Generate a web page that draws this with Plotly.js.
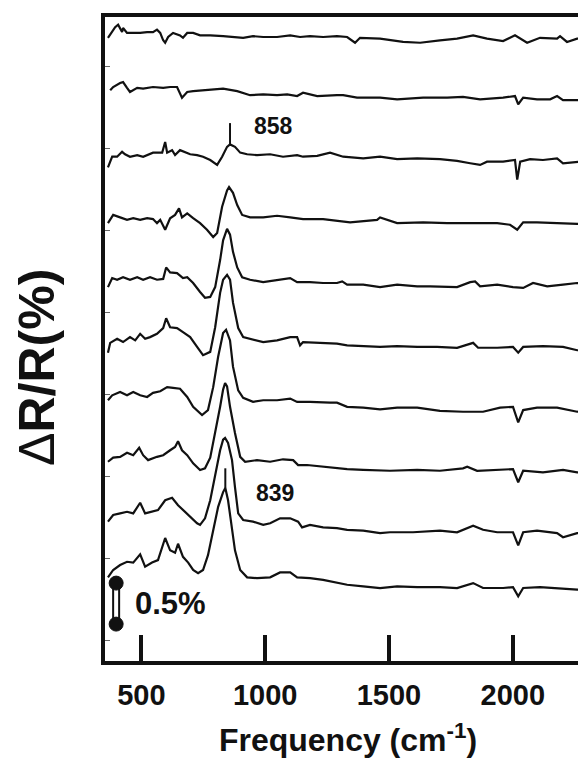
<!DOCTYPE html>
<html>
<head>
<meta charset="utf-8">
<script src="https://cdn.plot.ly/plotly-3.0.1.min.js"></script>
<style>
  html, body { margin: 0; padding: 0; overflow: hidden; background: #fff; width: 578px; height: 758px; }
  #chart { width: 591px; height: 758px; }
</style>
</head>
<body>
<div id="chart"></div>
<script>
// Difference reflectance spectra, stacked top to bottom (ΔR/R in %, frequency in cm-1)
const offsets = [7.6, 6.85, 6.1, 5.35, 4.6, 3.85, 3.1, 2.35, 1.6, 0.9];

const freq1 = [365,394,406,422,426,442,467,495,523,547,563,576,588,596,608,628,656,668,685,709,737,778,830,899,911,951,992,1048,1101,1141,1181,1234,1290,1331,1363,1383,1464,1557,1626,1706,1775,1840,1896,1961,2009,2058,2110,2179,2191,2219,2260,2312];
const dr1 = [0.00,0.13,0.16,0.07,0.12,0.06,0.06,0.06,0.07,0.07,0.10,0.06,-0.03,-0.06,0.01,0.06,0.03,0.00,0.06,0.06,0.03,0.03,0.02,0.01,0.00,0.02,0.01,0.01,0.03,0.01,0.02,0.01,0.02,0.01,-0.06,0.00,-0.01,-0.05,-0.06,-0.03,-0.01,0.03,-0.01,-0.04,0.03,-0.06,0.00,-0.01,0.02,-0.05,-0.01,0.00];

const freq2 = [374,386,414,426,442,454,483,507,547,588,616,644,664,685,709,765,830,887,939,992,1048,1089,1129,1153,1210,1290,1315,1371,1464,1533,1638,1735,1799,1868,1961,2009,2022,2042,2098,2151,2179,2203,2260,2312];
const dr2 = [0.11,0.15,0.20,0.21,0.14,0.09,0.14,0.13,0.15,0.14,0.15,0.15,0.02,0.09,0.10,0.11,0.13,0.10,0.05,0.06,0.05,0.06,0.04,0.08,0.04,0.05,0.05,0.02,0.02,0.00,0.02,0.02,0.03,0.00,0.02,0.04,-0.06,0.02,0.00,0.00,0.04,-0.01,-0.01,0.00];

const freq3 = [365,382,402,422,434,454,483,507,547,584,596,604,624,636,656,677,697,725,749,778,806,826,846,858,878,899,927,967,1020,1072,1129,1153,1210,1262,1315,1396,1464,1533,1614,1706,1775,1828,1868,1896,1961,2009,2018,2030,2070,2122,2179,2203,2260,2312];
const dr3 = [-0.08,0.05,0.05,0.11,0.08,0.05,0.07,0.05,0.10,0.10,0.23,0.10,0.13,0.07,0.13,0.10,0.08,0.07,0.05,0.01,-0.05,0.05,0.17,0.20,0.17,0.10,0.08,0.07,0.08,0.05,0.07,0.05,0.06,0.10,0.05,0.03,0.05,0.02,0.03,0.02,0.00,-0.03,-0.05,-0.01,-0.01,0.01,-0.23,-0.01,0.02,0.01,0.03,-0.03,-0.01,0.00];

const freq4 = [365,386,414,442,467,495,523,547,563,576,596,616,636,652,664,685,709,737,765,790,806,826,846,854,870,887,907,939,992,1048,1101,1153,1234,1290,1343,1452,1464,1533,1638,1735,1828,1937,1989,2018,2042,2098,2179,2260,2312];
const dr4 = [-0.01,0.09,0.06,0.03,0.05,0.03,0.05,0.04,-0.01,0.03,-0.09,0.05,0.09,0.17,0.06,0.11,0.05,-0.01,-0.09,-0.18,-0.13,0.19,0.39,0.43,0.36,0.21,0.09,0.06,0.06,0.08,0.06,0.04,0.04,0.02,0.00,0.03,0.06,-0.01,0.00,-0.01,-0.01,-0.01,-0.03,-0.09,0.00,0.00,-0.01,-0.02,-0.01];

const freq5 = [365,382,402,426,454,483,507,535,563,588,600,616,644,668,685,709,737,757,778,798,818,830,846,858,870,887,907,939,992,1048,1101,1129,1181,1234,1290,1311,1331,1396,1464,1533,1614,1666,1775,1828,1848,1868,1937,2001,2042,2082,2139,2203,2260,2312];
const dr5 = [-0.04,0.07,0.05,0.08,0.05,0.08,0.05,0.08,0.05,0.06,0.20,0.14,0.13,0.07,0.08,0.01,-0.10,-0.17,-0.16,-0.04,0.29,0.53,0.67,0.60,0.39,0.20,0.08,0.05,0.02,0.05,0.07,0.02,0.02,0.01,0.01,0.03,-0.01,-0.01,-0.04,-0.01,-0.03,-0.03,-0.04,0.02,0.03,-0.03,-0.01,-0.04,-0.05,0.01,-0.03,-0.01,0.01,0.00];

const freq6 = [365,374,402,426,454,475,495,515,535,563,588,600,616,644,668,697,725,749,778,798,818,830,846,858,870,891,911,939,992,1048,1101,1129,1141,1153,1210,1290,1331,1396,1464,1533,1614,1694,1775,1840,1860,1937,2001,2022,2042,2122,2203,2260,2312];
const dr6 = [-0.09,0.03,0.08,0.04,0.10,0.06,0.14,0.08,0.10,0.14,0.21,0.33,0.22,0.21,0.16,0.10,-0.02,-0.12,-0.08,0.22,0.64,0.80,0.86,0.80,0.52,0.21,0.10,0.08,0.04,0.06,0.10,0.10,0.00,0.04,0.03,0.02,0.00,-0.01,-0.02,-0.01,-0.02,-0.02,-0.03,0.03,-0.03,-0.03,-0.02,-0.09,-0.02,-0.01,-0.02,-0.06,-0.03];

const freq7 = [365,382,414,442,467,495,523,547,576,604,628,656,685,709,745,769,790,810,830,842,858,870,891,911,951,992,1048,1101,1129,1181,1262,1290,1331,1396,1464,1533,1614,1706,1799,1880,1949,2001,2022,2042,2098,2179,2260,2312];
const dr7 = [0.08,0.14,0.18,0.14,0.18,0.14,0.12,0.17,0.19,0.24,0.23,0.22,0.12,0.00,-0.10,-0.04,0.24,0.61,0.90,0.94,0.81,0.49,0.20,0.11,0.06,0.08,0.08,0.10,0.06,0.06,0.05,0.05,0.00,-0.01,-0.03,-0.01,-0.01,-0.05,-0.06,-0.06,-0.01,0.00,-0.19,-0.04,-0.01,-0.01,-0.06,-0.04];

const freq8 = [365,386,414,442,467,491,507,527,563,588,616,636,648,664,685,709,737,757,778,798,818,830,838,846,858,878,899,919,967,1020,1072,1113,1133,1169,1234,1290,1331,1396,1504,1614,1706,1799,1816,1856,1937,2001,2022,2042,2122,2203,2260,2312];
const dr8 = [0.08,0.13,0.14,0.19,0.16,0.25,0.16,0.10,0.14,0.16,0.22,0.26,0.33,0.22,0.16,0.06,-0.02,0.00,0.13,0.43,0.75,0.96,1.04,1.00,0.75,0.43,0.14,0.08,0.10,0.08,0.11,0.10,0.04,0.04,0.02,0.00,-0.01,-0.02,-0.03,-0.02,-0.03,0.00,0.02,-0.03,-0.02,-0.01,-0.17,-0.03,-0.05,-0.02,-0.05,-0.03];

const freq9 = [365,386,414,442,467,495,515,543,567,596,624,648,668,689,725,737,757,778,798,818,830,838,850,866,878,891,911,951,992,1020,1060,1101,1133,1149,1181,1234,1290,1331,1396,1464,1504,1597,1706,1775,1840,1880,1937,2001,2022,2042,2098,2179,2203,2260,2312];
const dr9 = [0.10,0.18,0.20,0.22,0.20,0.33,0.20,0.22,0.24,0.36,0.39,0.30,0.24,0.18,0.08,0.06,0.14,0.36,0.69,0.97,1.10,1.12,1.06,0.85,0.52,0.20,0.12,0.10,0.06,0.08,0.14,0.14,0.10,0.03,0.06,0.03,0.02,0.00,-0.01,-0.04,-0.03,-0.03,-0.01,-0.03,0.05,0.00,-0.03,-0.03,-0.19,-0.03,-0.01,-0.04,-0.09,-0.04,-0.03];

const freq10 = [365,386,414,442,467,495,515,543,567,596,616,636,648,668,689,709,729,749,769,790,810,830,839,850,866,878,899,927,967,1020,1060,1101,1129,1181,1234,1290,1331,1396,1464,1533,1614,1706,1775,1840,1880,1961,2001,2022,2042,2110,2179,2260,2312];
const dr10 = [0.12,0.21,0.27,0.31,0.30,0.40,0.25,0.30,0.33,0.60,0.45,0.42,0.53,0.37,0.30,0.21,0.17,0.21,0.39,0.70,0.98,1.16,1.21,1.06,0.73,0.45,0.21,0.12,0.11,0.12,0.18,0.18,0.12,0.11,0.09,0.06,0.03,0.01,-0.01,0.01,0.00,0.00,-0.01,0.05,-0.01,-0.01,0.00,-0.11,-0.01,0.00,-0.01,-0.03,-0.02];

// Labelled band positions (cm-1), the spectrum each belongs to, and the top of the marker stick
const bandFreqs = [858, 839];
const bandTrace = [2, 9];
const bandMarkTop = [6.56, 2.35];
const bandLabelX = [1032, 1040];
const bandLabelY = [6.52, 2.05];

// Scale bar
const scaleBarSize = 0.5;   // %
const scaleBarBottom = 0.45;
const scaleBarFreq = 398;

const tickFreqs = [500, 1000, 1500, 2000];
const tickLabels = ['500', '1000', '1500', '2000'];

const freqs = [freq1, freq2, freq3, freq4, freq5, freq6, freq7, freq8, freq9, freq10];
const drs = [dr1, dr2, dr3, dr4, dr5, dr6, dr7, dr8, dr9, dr10];

const FONT = '"Liberation Sans", Arial, Helvetica, sans-serif';

const traces = freqs.map((f, i) => ({
  type: 'scatter',
  mode: 'lines',
  x: f,
  y: drs[i].map(v => v + offsets[i]),
  line: { color: '#111', width: 2.2 },
  hoverinfo: 'skip',
  showlegend: false
}));

const shapes = [];
const annotations = [];

bandFreqs.forEach((bf, k) => {
  const t = bandTrace[k];
  const idx = freqs[t].indexOf(bf);
  const peakY = drs[t][idx] + offsets[t];
  shapes.push({
    type: 'line', xref: 'x', yref: 'y',
    x0: bf, x1: bf, y0: peakY, y1: bandMarkTop[k],
    line: { color: '#111', width: 2 }
  });
  annotations.push({
    xref: 'x', yref: 'y', x: bandLabelX[k], y: bandLabelY[k],
    text: String(bf), showarrow: false, xanchor: 'center', yanchor: 'middle',
    font: { family: FONT, size: 23, color: '#111', weight: 'bold' }
  });
});

// dumbbell scale bar
const sbTop = scaleBarBottom + scaleBarSize;
shapes.push({
  type: 'rect', xref: 'x', yref: 'y', xsizemode: 'pixel', xanchor: scaleBarFreq,
  x0: -3, x1: 3, y0: scaleBarBottom, y1: sbTop,
  line: { color: '#111', width: 2 }, fillcolor: '#fff'
});
[scaleBarBottom, sbTop].forEach(yy => {
  shapes.push({
    type: 'circle', xref: 'x', yref: 'y',
    xsizemode: 'pixel', ysizemode: 'pixel', xanchor: scaleBarFreq, yanchor: yy,
    x0: -7, x1: 7, y0: -7, y1: 7,
    line: { color: '#111', width: 1 }, fillcolor: '#111'
  });
});
annotations.push({
  xref: 'x', yref: 'y', x: 467, y: scaleBarBottom + scaleBarSize / 2,
  text: scaleBarSize + '%', showarrow: false, xanchor: 'left', yanchor: 'middle',
  font: { family: FONT, size: 31, color: '#111', weight: 'bold' }
});

// y-axis title
annotations.push({
  xref: 'paper', yref: 'paper', x: -0.14, y: 0.4565,
  text: 'Δ<b>R/R(%)</b>', textangle: -90, showarrow: false,
  xanchor: 'center', yanchor: 'middle',
  font: { family: FONT, size: 50, color: '#111' }
});

const layout = {
  width: 591,
  height: 758,
  margin: { l: 105, r: 0, t: 17, b: 97 },
  paper_bgcolor: '#fff',
  plot_bgcolor: '#fff',
  showlegend: false,
  xaxis: {
    range: [353, 2316],
    showline: true, linewidth: 4, linecolor: '#111', mirror: true,
    ticks: 'inside', ticklen: 26, tickwidth: 4, tickcolor: '#111',
    tickvals: tickFreqs, ticktext: tickLabels,
    tickfont: { family: FONT, size: 29, color: '#111', weight: 'bold' },
    ticklabelstandoff: 5,
    showgrid: false, zeroline: false,
    title: {
      text: 'Frequency (cm<sup>-1</sup>)',
      font: { family: FONT, size: 32, color: '#111', weight: 'bold' },
      standoff: 21
    }
  },
  yaxis: {
    range: [0, 7.854],
    showline: true, linewidth: 4, linecolor: '#111', mirror: false,
    ticks: 'inside', ticklen: 5, tickwidth: 1, tickcolor: '#666',
    tick0: 0.256, dtick: 1,
    showticklabels: false, showgrid: false, zeroline: false
  },
  shapes: shapes,
  annotations: annotations
};

Plotly.newPlot('chart', traces, layout, { staticPlot: true, displayModeBar: false });
</script>
</body>
</html>
